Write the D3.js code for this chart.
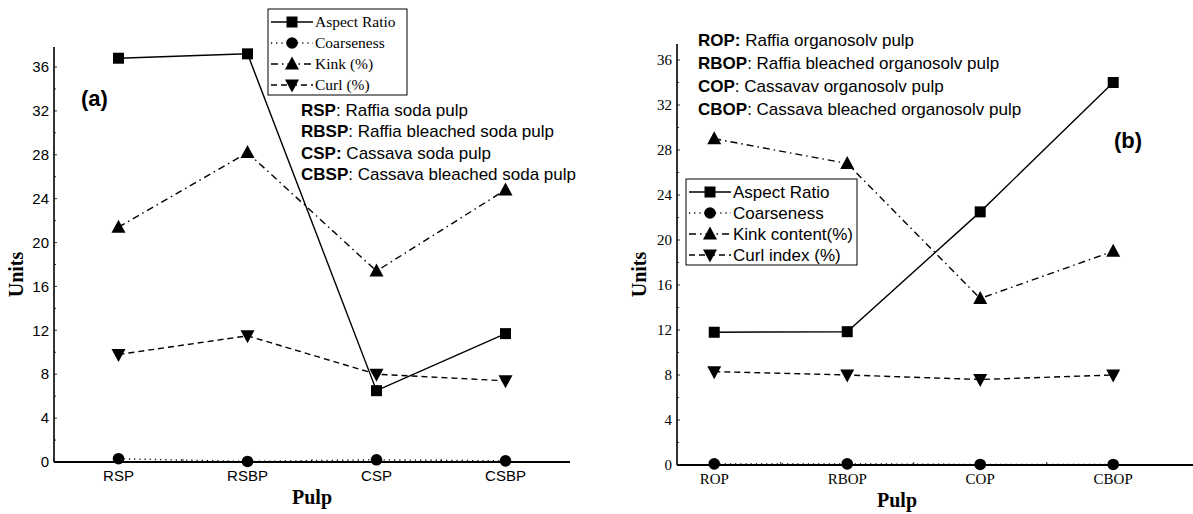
<!DOCTYPE html>
<html lang="en">
<head>
<meta charset="UTF-8">
<title>Pulp fibre properties</title>
<script src="https://cdnjs.cloudflare.com/ajax/libs/d3/7.8.5/d3.min.js"></script>
<style>
  body { margin: 0; background: #fff; }
  svg text { fill: #000; }
  .serif { font-family: "Liberation Serif", "DejaVu Serif", serif; }
  .sans { font-family: "Liberation Sans", Arial, sans-serif; }
</style>
</head>
<body>
<svg id="chart" width="1193" height="514"></svg>
<script>
// ---- data ----
const pulpsA = ["RSP", "RSBP", "CSP", "CSBP"];
const aspectA = [36.8, 37.2, 6.5, 11.7];
const coarseA = [0.3, 0.05, 0.2, 0.1];
const kinkA = [21.4, 28.2, 17.4, 24.8];
const curlA = [9.8, 11.5, 8.0, 7.4];

const pulpsB = ["ROP", "RBOP", "COP", "CBOP"];
const aspectB = [11.8, 11.85, 22.5, 34.0];
const coarseB = [0.1, 0.1, 0.05, 0.05];
const kinkB = [29.0, 26.8, 14.8, 19.0];
const curlB = [8.3, 8.0, 7.6, 8.0];

const yTicks = [0, 4, 8, 12, 16, 20, 24, 28, 32, 36];
const legendA = ["Aspect Ratio", "Coarseness", "Kink (%)", "Curl (%)"];
const legendB = ["Aspect Ratio", "Coarseness", "Kink content(%)", "Curl index (%)"];
const notesA = [["RSP", ": Raffia soda pulp"], ["RBSP", ": Raffia bleached soda pulp"],
                ["CSP:", " Cassava soda pulp"], ["CBSP", ": Cassava bleached soda pulp"]];
const notesB = [["ROP:", " Raffia organosolv pulp"], ["RBOP", ": Raffia bleached organosolv pulp"],
                ["COP", ": Cassavav organosolv pulp"], ["CBOP", ": Cassava bleached organosolv pulp"]];

// line styles per series: aspect, coarseness, kink, curl
const styles = [
  { dash: null, marker: "square" },
  { dash: "1.2,4", marker: "circle" },
  { dash: "7,4,1.5,4", marker: "up" },
  { dash: "6,4", marker: "down" }
];

const svg = d3.select("#chart");

function marker(g, type, x, y) {
  if (type === "square") {
    g.append("rect").attr("x", x - 5.5).attr("y", y - 5.5).attr("width", 11).attr("height", 11).attr("fill", "#000");
  } else if (type === "circle") {
    g.append("circle").attr("cx", x).attr("cy", y).attr("r", 5.8).attr("fill", "#000");
  } else if (type === "up") {
    g.append("path").attr("d", `M${x},${y - 7.5}L${x + 7},${y + 5.5}L${x - 7},${y + 5.5}Z`).attr("fill", "#000");
  } else {
    g.append("path").attr("d", `M${x},${y + 7.5}L${x + 7},${y - 5.5}L${x - 7},${y - 5.5}Z`).attr("fill", "#000");
  }
}

function panel(o) {
  const g = svg.append("g");
  const x = d3.scaleLinear().domain(o.xDomain).range([o.left, o.right]);
  const y = d3.scaleLinear().domain([0, 36]).range([o.y0, o.y36]);
  const series = [o.aspect, o.coarse, o.kink, o.curl];

  // axes
  g.append("line").attr("x1", o.left).attr("x2", o.left).attr("y1", o.top).attr("y2", y(0))
    .attr("stroke", "#000").attr("stroke-width", 1.6);
  g.append("line").attr("x1", o.left).attr("x2", o.right).attr("y1", y(0)).attr("y2", y(0))
    .attr("stroke", "#000").attr("stroke-width", 1.8);

  // y ticks (inward, with minor ticks)
  d3.range(0, 38, 2).forEach(v => {
    g.append("line").attr("x1", o.left).attr("x2", o.left + (v % 4 === 0 ? 3 : 2))
      .attr("y1", y(v)).attr("y2", y(v)).attr("stroke", "#000").attr("stroke-width", 0.8);
  });
  yTicks.forEach(v => {
    g.append("text").attr("class", o.tickClass).attr("x", o.left - 5).attr("y", y(v))
      .attr("dy", "0.35em").attr("text-anchor", "end").attr("font-size", 15).text(v);
  });

  // x ticks
  d3.range(o.xDomain[0], o.xDomain[1], 0.5).forEach(v => {
    const vv = Math.round(v * 2) / 2;
    if (vv < o.xDomain[0] || vv > o.xDomain[1]) return;
    g.append("line").attr("x1", x(vv)).attr("x2", x(vv)).attr("y1", y(0)).attr("y2", y(0) - 3)
      .attr("stroke", "#000").attr("stroke-width", 0.8);
  });
  o.pulps.forEach((p, i) => {
    g.append("text").attr("class", o.tickClass).attr("x", x(i)).attr("y", y(0) + 19)
      .attr("text-anchor", "middle").attr("font-size", 15).text(p);
  });

  // axis titles
  g.append("text").attr("class", "serif").attr("font-weight", "bold").attr("font-size", 20)
    .attr("text-anchor", "middle")
    .attr("transform", `translate(${o.left - 31},${(o.top + y(0)) / 2 + 20}) rotate(-90)`).text("Units");
  g.append("text").attr("class", "serif").attr("font-weight", "bold").attr("font-size", 20)
    .attr("text-anchor", "middle").attr("x", o.titleX).attr("y", y(0) + 42).text("Pulp");

  // lines and markers
  const line = d3.line().x((d, i) => x(i)).y(d => y(d));
  series.forEach((s, k) => {
    g.append("path").attr("d", line(s)).attr("fill", "none").attr("stroke", "#000")
      .attr("stroke-width", 1.4).attr("stroke-dasharray", styles[k].dash);
    s.forEach((v, i) => marker(g, styles[k].marker, x(i), y(v)));
  });

  // legend
  const lg = g.append("g");
  lg.append("rect").attr("x", o.legX).attr("y", o.legY).attr("width", o.legW).attr("height", 86)
    .attr("fill", "#fff").attr("stroke", "#000").attr("stroke-width", 1);
  o.legend.forEach((name, k) => {
    const cy = o.legY + 13 + k * 21;
    lg.append("line").attr("x1", o.legX + 3).attr("x2", o.legX + 45).attr("y1", cy).attr("y2", cy)
      .attr("stroke", "#000").attr("stroke-width", 1.4).attr("stroke-dasharray", styles[k].dash);
    marker(lg, styles[k].marker, o.legX + 24, cy);
    lg.append("text").attr("class", o.legClass).attr("x", o.legX + 47).attr("y", cy)
      .attr("dy", "0.35em").attr("font-size", o.legSize).text(name);
  });

  // abbreviations
  o.notes.forEach((n, k) => {
    const t = g.append("text").attr("class", "sans").attr("x", o.noteX).attr("y", o.noteY + k * o.noteGap)
      .attr("dy", "0.35em").attr("font-size", 17);
    t.append("tspan").attr("font-weight", "bold").text(n[0]);
    t.append("tspan").text(n[1]);
  });

  g.append("text").attr("class", "sans").attr("font-weight", "bold").attr("font-size", 22)
    .attr("x", o.tagX).attr("y", o.tagY).attr("dy", "0.35em").text(o.tag);
}

panel({
  pulps: pulpsA, aspect: aspectA, coarse: coarseA, kink: kinkA, curl: curlA,
  xDomain: [-0.5, 3.5], left: 54, right: 570, top: 47, y0: 462, y36: 67,
  tickClass: "sans", titleX: 312,
  legend: legendA, legX: 268, legY: 9, legW: 139, legClass: "serif", legSize: 15.5,
  notes: notesA, noteX: 301, noteY: 110, noteGap: 21.5,
  tag: "(a)", tagX: 81, tagY: 98
});

panel({
  pulps: pulpsB, aspect: aspectB, coarse: coarseB, kink: kinkB, curl: curlB,
  xDomain: [-0.28, 3.6], left: 677, right: 1193, top: 44, y0: 465, y36: 60,
  tickClass: "serif", titleX: 897,
  legend: legendB, legX: 686, legY: 179, legW: 171, legClass: "sans", legSize: 17,
  notes: notesB, noteX: 698, noteY: 40, noteGap: 23,
  tag: "(b)", tagX: 1114, tagY: 140
});
</script>
</body>
</html>
